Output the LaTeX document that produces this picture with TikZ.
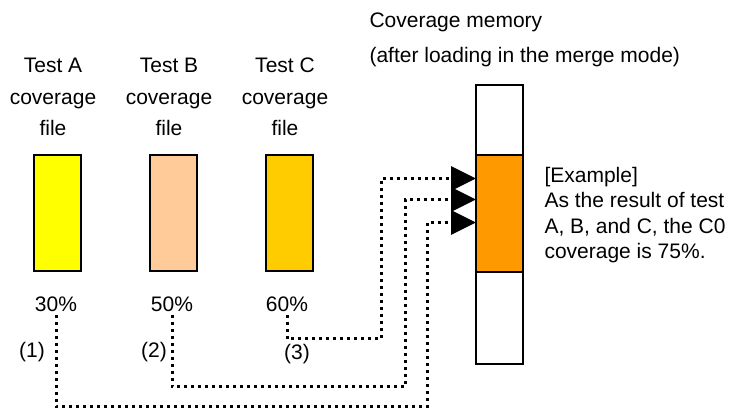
\documentclass[tikz,border=0pt]{standalone}
\usepackage{fontspec}
\setmainfont{Liberation Sans}
\definecolor{FileA}{RGB}{255,255,0}
\definecolor{FileB}{RGB}{255,204,153}
\definecolor{FileC}{RGB}{255,204,0}
\definecolor{MergeOrange}{RGB}{255,153,0}
\usetikzlibrary{arrows.meta, positioning, calc}

\begin{document}
\begin{tikzpicture}[x=1pt, y=-1pt, font=\fontsize{21}{31.5}\selectfont,
	bar/.style={draw, line width=1.5pt, inner sep=0pt, outer sep=0pt, minimum width=47pt},
	feed/.style={line width=3pt, dash pattern=on 3pt off 4pt, -{Triangle[length=25pt,width=24pt]}}]
	\useasboundingbox (0,0) rectangle (731,410);
	% header
	\node[anchor=west] (title) at (366,22) {Coverage memory};
	\node[anchor=west] (mode) at (366,57) {(after loading in the merge mode)};
	% coverage files
	\node[align=center] (ta) at (53,97) {Test A\\coverage\\file};
	\node[align=center] (tb) at (169,97) {Test B\\coverage\\file};
	\node[align=center] (tc) at (285,97) {Test C\\coverage\\file};
	\node[bar, fill=FileA, minimum height=116pt] (fa) at (57.5,213) {};
	\node[bar, fill=FileB, minimum height=116pt] (fb) at (173.5,213) {};
	\node[bar, fill=FileC, minimum height=116pt] (fc) at (289.5,213) {};
	\node (pa) at (56,304) {30\%};
	\node (pb) at (172,304) {50\%};
	\node (pc) at (287,304) {60\%};
	\node (na) at (32,352) {(1)};
	\node (nb) at (154,352) {(2)};
	\node (nc) at (297,354) {(3)};
	% memory
	\node[bar, fill=white, minimum height=70pt] (memtop) at (499.5,120) {};
	\node[bar, fill=MergeOrange, minimum height=117pt] (memmid) at (499.5,213.5) {};
	\node[bar, fill=white, minimum height=92pt] (membot) at (499.5,318) {};
	\node[anchor=west, align=left, font=\fontsize{21}{25.3}\selectfont] (note) at (541,215)
		{[Example]\\As the result of test\\A, B, and C, the C0\\coverage is 75\%.};
	% merge paths
	\coordinate (inA) at ($(memmid.west)+(0,9)$);
	\coordinate (inB) at ($(memmid.west)+(0,-14)$);
	\coordinate (inC) at ($(memmid.west)+(0,-35)$);
	\draw[feed] (pa.south) -- ++(0,92) -| ([xshift=-49pt]inA) -- (inA);
	\draw[feed] (pb.south) -- ++(0,72) -| ([xshift=-71pt]inB) -- (inB);
	\draw[feed] (pc.south) -- ++(0,24) -| ([xshift=-95pt]inC) -- (inC);
\end{tikzpicture}
\end{document}
